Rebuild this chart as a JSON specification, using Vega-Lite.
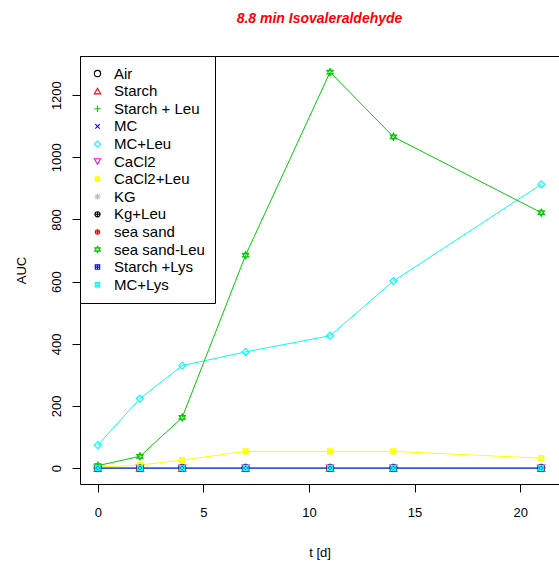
{
  "$schema": "https://vega.github.io/schema/vega-lite/v6.json",
  "autosize": "none",
  "width": 479,
  "height": 428,
  "padding": {"left": 80, "top": 56, "right": 0, "bottom": 79},
  "background": "white",
  "config": {
    "font": "Liberation Sans",
    "view": {"stroke": "black", "strokeWidth": 1},
    "axis": {"grid": false, "domain": false, "tickColor": "black", "tickSize": 8, "labelColor": "black", "titleColor": "black", "labelFontSize": 13, "titleFontSize": 13, "titleFontWeight": "normal", "labelFont": "Liberation Sans", "titleFont": "Liberation Sans"},
    "legend": {"title": null, "orient": "none", "legendX": 0, "legendY": 0, "strokeColor": "black", "fillColor": "white", "padding": 10, "labelFontSize": 15, "labelFont": "Liberation Sans", "labelColor": "black", "rowPadding": 1.6, "symbolSize": 40, "symbolStrokeWidth": 1.1, "symbolFillColor": "transparent", "labelOffset": 9}
  },
  "title": {"text": "8.8 min Isovaleraldehyde", "color": "#FF0000", "fontSize": 14, "fontWeight": "bold", "fontStyle": "italic", "font": "Liberation Sans", "frame": "group", "anchor": "middle", "offset": 30},
  "data": {"values": [
    {"t":0,"s":"Air","auc":1},{"t":2,"s":"Air","auc":1},{"t":4,"s":"Air","auc":1},{"t":7,"s":"Air","auc":1},{"t":11,"s":"Air","auc":1},{"t":14,"s":"Air","auc":1},{"t":21,"s":"Air","auc":1},
    {"t":0,"s":"Starch","auc":0},{"t":2,"s":"Starch","auc":0},{"t":4,"s":"Starch","auc":0},{"t":7,"s":"Starch","auc":0},{"t":11,"s":"Starch","auc":0},{"t":14,"s":"Starch","auc":0},{"t":21,"s":"Starch","auc":0},
    {"t":0,"s":"Starch + Leu","auc":2},{"t":2,"s":"Starch + Leu","auc":1},{"t":4,"s":"Starch + Leu","auc":1},{"t":7,"s":"Starch + Leu","auc":2},{"t":11,"s":"Starch + Leu","auc":2},{"t":14,"s":"Starch + Leu","auc":1},{"t":21,"s":"Starch + Leu","auc":1},
    {"t":0,"s":"MC","auc":0},{"t":2,"s":"MC","auc":0},{"t":4,"s":"MC","auc":0},{"t":7,"s":"MC","auc":0},{"t":11,"s":"MC","auc":0},{"t":14,"s":"MC","auc":0},{"t":21,"s":"MC","auc":0},
    {"t":0,"s":"MC+Leu","auc":74},{"t":2,"s":"MC+Leu","auc":224},{"t":4,"s":"MC+Leu","auc":330},{"t":7,"s":"MC+Leu","auc":374},{"t":11,"s":"MC+Leu","auc":426},{"t":14,"s":"MC+Leu","auc":602},{"t":21,"s":"MC+Leu","auc":913},
    {"t":0,"s":"CaCl2","auc":0},{"t":2,"s":"CaCl2","auc":0},{"t":4,"s":"CaCl2","auc":0},{"t":7,"s":"CaCl2","auc":0},{"t":11,"s":"CaCl2","auc":0},{"t":14,"s":"CaCl2","auc":0},{"t":21,"s":"CaCl2","auc":0},
    {"t":0,"s":"CaCl2+Leu","auc":3},{"t":2,"s":"CaCl2+Leu","auc":10},{"t":4,"s":"CaCl2+Leu","auc":26},{"t":7,"s":"CaCl2+Leu","auc":54},{"t":11,"s":"CaCl2+Leu","auc":54},{"t":14,"s":"CaCl2+Leu","auc":54},{"t":21,"s":"CaCl2+Leu","auc":32},
    {"t":0,"s":"KG","auc":0},{"t":2,"s":"KG","auc":0},{"t":4,"s":"KG","auc":0},{"t":7,"s":"KG","auc":0},{"t":11,"s":"KG","auc":0},{"t":14,"s":"KG","auc":0},{"t":21,"s":"KG","auc":0},
    {"t":0,"s":"Kg+Leu","auc":1},{"t":2,"s":"Kg+Leu","auc":1},{"t":4,"s":"Kg+Leu","auc":1},{"t":7,"s":"Kg+Leu","auc":1},{"t":11,"s":"Kg+Leu","auc":1},{"t":14,"s":"Kg+Leu","auc":1},{"t":21,"s":"Kg+Leu","auc":1},
    {"t":0,"s":"sea sand","auc":0},{"t":2,"s":"sea sand","auc":0},{"t":4,"s":"sea sand","auc":0},{"t":7,"s":"sea sand","auc":0},{"t":11,"s":"sea sand","auc":0},{"t":14,"s":"sea sand","auc":0},{"t":21,"s":"sea sand","auc":0},
    {"t":0,"s":"sea sand-Leu","auc":8},{"t":2,"s":"sea sand-Leu","auc":38},{"t":4,"s":"sea sand-Leu","auc":163},{"t":7,"s":"sea sand-Leu","auc":685},{"t":11,"s":"sea sand-Leu","auc":1274},{"t":14,"s":"sea sand-Leu","auc":1066},{"t":21,"s":"sea sand-Leu","auc":822},
    {"t":0,"s":"Starch +Lys","auc":0},{"t":2,"s":"Starch +Lys","auc":0},{"t":4,"s":"Starch +Lys","auc":0},{"t":7,"s":"Starch +Lys","auc":0},{"t":11,"s":"Starch +Lys","auc":0},{"t":14,"s":"Starch +Lys","auc":0},{"t":21,"s":"Starch +Lys","auc":0},
    {"t":0,"s":"MC+Lys","auc":1},{"t":2,"s":"MC+Lys","auc":1},{"t":4,"s":"MC+Lys","auc":1},{"t":7,"s":"MC+Lys","auc":1},{"t":11,"s":"MC+Lys","auc":1},{"t":14,"s":"MC+Lys","auc":1},{"t":21,"s":"MC+Lys","auc":1}
  ]},
  "encoding": {
    "x": {"field": "t", "type": "quantitative", "title": "t [d]", "scale": {"domain": [-0.84, 21.84], "nice": false, "zero": false},
      "axis": {"values": [0, 5, 10, 15, 20], "labelPadding": 14, "titlePadding": 27}},
    "y": {"field": "auc", "type": "quantitative", "title": "AUC", "scale": {"domain": [-51, 1326], "nice": false, "zero": false},
      "axis": {"values": [0, 200, 400, 600, 800, 1000, 1200], "format": "d", "labelAngle": -90, "labelPadding": 9, "titlePadding": 22}},
    "color": {"field": "s", "type": "nominal",
      "scale": {"domain": ["Air","Starch","Starch + Leu","MC","MC+Leu","CaCl2","CaCl2+Leu","KG","Kg+Leu","sea sand","sea sand-Leu","Starch +Lys","MC+Lys"],
        "range": ["#000000","#FF0000","#00CD00","#0000FF","#00FFFF","#FF00FF","#FFFF00","#BEBEBE","#000000","#FF0000","#00CD00","#0000FF","#00FFFF"]}},
    "shape": {"field": "s", "type": "nominal",
      "scale": {"domain": ["Air","Starch","Starch + Leu","MC","MC+Leu","CaCl2","CaCl2+Leu","KG","Kg+Leu","sea sand","sea sand-Leu","Starch +Lys","MC+Lys"],
        "range": ["circle","triangle-up","M-1,0L1,0M0,-1L0,1","M-0.7,-0.7L0.7,0.7M-0.7,0.7L0.7,-0.7","diamond","triangle-down","M-0.7,-0.7H0.7V0.7H-0.7Z M-0.7,-0.7L0.7,0.7M-0.7,0.7L0.7,-0.7","M-1,0L1,0M0,-1L0,1M-0.7,-0.7L0.7,0.7M-0.7,0.7L0.7,-0.7","M0.8,0A0.8,0.8,0,1,1,-0.8,0A0.8,0.8,0,1,1,0.8,0Z M-1,0L1,0M0,-1L0,1","M0.7,0A0.7,0.7,0,1,1,-0.7,0A0.7,0.7,0,1,1,0.7,0Z M-0.7,0L0.7,0M0,-0.7L0,0.7","M0,-1L0.866,0.5L-0.866,0.5Z M0,1L0.866,-0.5L-0.866,-0.5Z","M-0.7,-0.7H0.7V0.7H-0.7Z M-0.7,0L0.7,0M0,-0.7L0,0.7","M-0.7,-0.7H0.7V0.7H-0.7Z M-0.7,-0.7L0.7,0.7M-0.7,0.7L0.7,-0.7"]}}
  },
  "layer": [
    {"mark": {"type": "line", "strokeWidth": 1, "point": {"filled": false, "fill": "transparent", "strokeWidth": 1.2, "size": 50, "opacity": 1}}}
  ]
}
